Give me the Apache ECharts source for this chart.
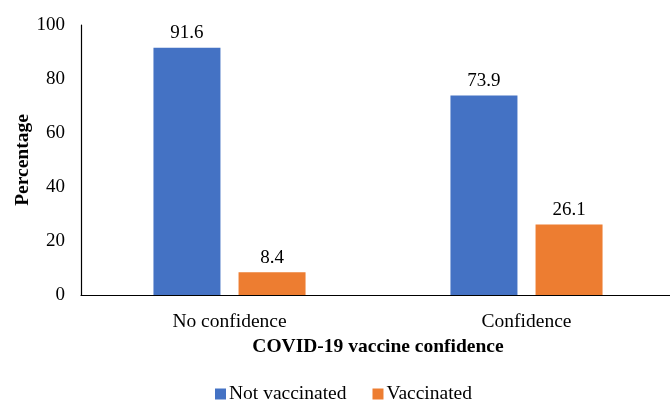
<!DOCTYPE html>
<html>
<head>
<meta charset="utf-8">
<script src="https://cdn.jsdelivr.net/npm/echarts@6/dist/echarts.min.js"></script>
<style>
  html, body { margin: 0; padding: 0; background: #fff; }
  #chart { width: 670px; height: 402px; }
</style>
</head>
<body>
<div id="chart"></div>
<script>
// categories and values
var categories = ['No confidence', 'Confidence']
var notVaccinated = [91.6, 73.9]
var vaccinated = [8.4, 26.1]
var seriesNames = ['Not vaccinated', 'Vaccinated']

var font = '"Liberation Serif", "Times New Roman", serif'
var fs = 19.5

var myChart = echarts.init(document.getElementById('chart'))
var option = {
  animation: false,
  textStyle: { fontFamily: font },
  grid: {
    left: 81,
    top: 25,
    width: 594,
    height: 270,
    outerBoundsMode: 'none'
  },
  legend: {
    top: 379,
    left: 210,
    itemWidth: 11,
    itemHeight: 11,
    itemGap: 26,
    icon: 'rect',
    textStyle: { fontFamily: font, fontSize: fs, color: '#000', padding: [0, 0, 0, -2] },
    data: seriesNames
  },
  xAxis: {
    type: 'category',
    data: categories,
    axisTick: { show: false },
    axisLine: { lineStyle: { color: '#000', width: 1.2 } },
    axisLabel: { fontFamily: font, fontSize: fs, color: '#000', margin: 17 },
    name: 'COVID-19 vaccine confidence',
    nameLocation: 'middle',
    nameGap: 42,
    nameMoveOverlap: false,
    nameTextStyle: { fontFamily: font, fontSize: fs, fontWeight: 'bold', color: '#000' }
  },
  yAxis: {
    type: 'value',
    min: 0,
    max: 100,
    interval: 20,
    splitLine: { show: false },
    axisTick: { show: false },
    axisLine: { show: true, lineStyle: { color: '#000', width: 1.2 } },
    axisLabel: { fontFamily: font, fontSize: 19, color: '#000', margin: 16 },
    name: 'Percentage',
    nameLocation: 'middle',
    nameGap: 48,
    nameMoveOverlap: false,
    nameTextStyle: { fontFamily: font, fontSize: fs, fontWeight: 'bold', color: '#000' }
  },
  series: [
    {
      name: seriesNames[0],
      type: 'bar',
      data: notVaccinated,
      barWidth: 67,
      barGap: '27%',
      color: '#4472C4',
      label: { show: true, position: 'top', distance: 5, fontFamily: font, fontSize: 19, color: '#000' }
    },
    {
      name: seriesNames[1],
      type: 'bar',
      data: vaccinated,
      barWidth: 67,
      color: '#ED7D31',
      label: { show: true, position: 'top', distance: 5, fontFamily: font, fontSize: 19, color: '#000' }
    }
  ]
}
myChart.setOption(option)
</script>
</body>
</html>
